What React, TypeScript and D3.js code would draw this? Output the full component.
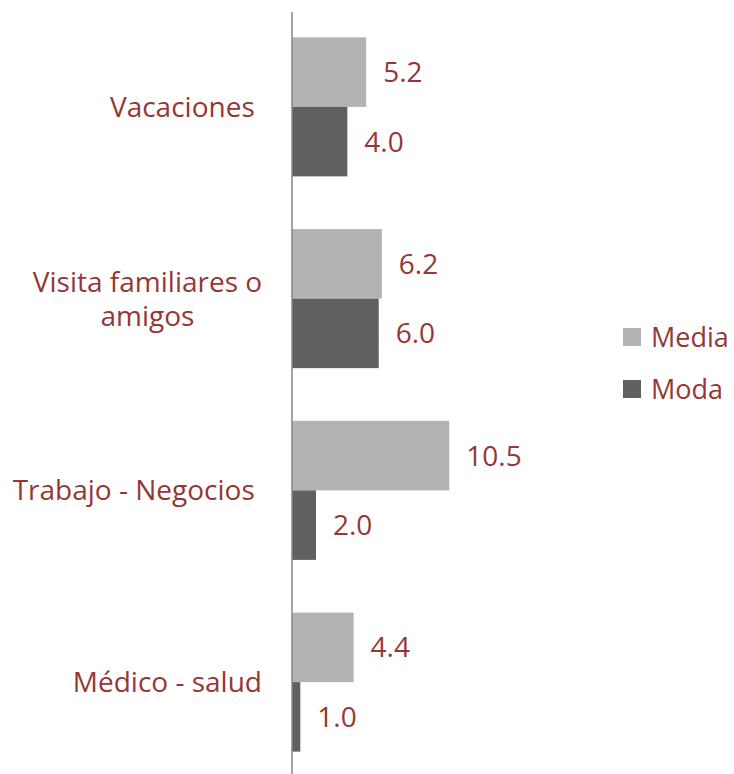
import React from 'react';
import * as d3 from 'd3';

// chart data
const categories = ['Vacaciones ', 'Visita familiares o\namigos', 'Trabajo - Negocios ', 'Médico - salud'];
const series = ['Media', 'Moda'];
const media = [5.2, 6.2, 10.5, 4.4];
const moda = [4.0, 6.0, 2.0, 1.0];

const width = 734;
const height = 774;
const labelColor = '#953735';
const colors = ['#b3b3b3', '#606060'];
const font = '"Open Sans", sans-serif';

export default function App() {
  const values = [media, moda];

  const y = d3.scaleBand<string>()
    .domain(categories)
    .range([11, 778])
    .paddingInner(0.275)
    .paddingOuter(0.1375);

  const ySub = d3.scaleBand<string>()
    .domain(series)
    .range([0, y.bandwidth()]);

  // axis sits a little above zero, like the original
  const x = d3.scaleLinear()
    .domain([0.47, 11])
    .range([292, 292 + 15.68 * (11 - 0.47)]);

  return (
    <svg width={width} height={height} style={{ position: 'absolute', left: 0, top: 0 }} fontFamily={font}>
      {categories.map((cat, i) => (
        <g key={cat} transform={`translate(0,${y(cat)})`}>
          {series.map((s, j) => {
            const v = values[j][i];
            const by = ySub(s)!;
            return (
              <g key={s}>
                <rect x={x.range()[0]} y={by} width={x(v) - x.range()[0]} height={ySub.bandwidth()}
                  fill={colors[j]} />
                <text x={x(v) + 17} y={by + ySub.bandwidth() / 2} dy="0.36em"
                  fontSize={28} fill={labelColor}>{v.toFixed(1)}</text>
              </g>
            );
          })}
          {(() => {
            const lines = cat.split('\n');
            const lh = 34;
            const cy = y.bandwidth() / 2;
            const anchorX = lines.length > 1 ? 147.5 : 262;
            return (
              <text fontSize={28} fill={labelColor} textAnchor={lines.length > 1 ? 'middle' : 'end'}
                style={{ whiteSpace: 'pre' }}>
                {lines.map((ln, k) => (
                  <tspan key={k} x={anchorX} y={cy + (k - (lines.length - 1) / 2) * lh} dy="0.36em">{ln}</tspan>
                ))}
              </text>
            );
          })()}
        </g>
      ))}
      <line x1={292} x2={292} y1={12} y2={774} stroke="#868686" strokeWidth={1.5} />
      {series.map((s, j) => (
        <g key={s} transform={`translate(623,${328 + j * 52})`}>
          <rect width={18} height={18} fill={colors[j]} />
          <text x={28} y={9} dy="0.36em" fontSize={27} fill={labelColor}>{s}</text>
        </g>
      ))}
    </svg>
  );
}
